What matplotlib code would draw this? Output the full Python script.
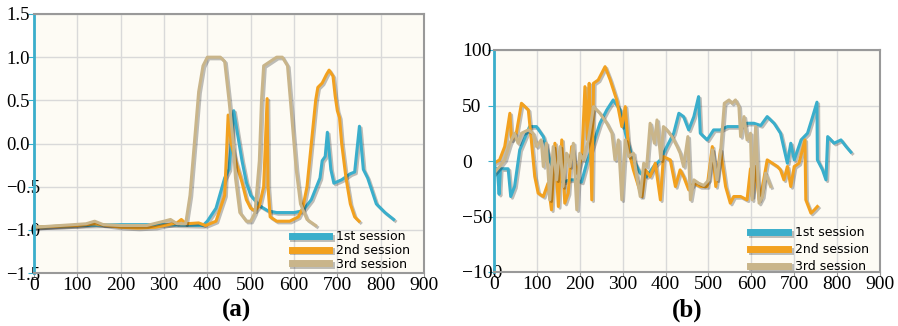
import matplotlib
matplotlib.use("Agg")
import matplotlib.pyplot as plt
import matplotlib.patheffects as pe

# panel (a) data
a1_x = [0, 50, 100, 200, 300, 390, 400, 420, 440, 450, 455, 461, 470, 480, 490, 500, 520, 540, 560, 600,
        620, 640, 660, 665, 672, 677, 685, 692, 710, 730, 740, 751, 760, 770, 790, 810, 830]
a1_y = [-0.97, -0.96, -0.95, -0.94, -0.94, -0.95, -0.9, -0.75, -0.4, -0.3, 0.0, 0.38, 0.1, -0.2, -0.45,
        -0.6, -0.72, -0.78, -0.8, -0.8, -0.78, -0.65, -0.4, -0.2, -0.15, 0.13, -0.3, -0.46, -0.42, -0.35,
        -0.33, 0.2, -0.3, -0.4, -0.7, -0.8, -0.88]
a2_x = [0, 100, 140, 200, 240, 280, 300, 330, 340, 350, 380, 396, 420, 440, 448, 455, 465, 480, 490,
        500, 510, 520, 530, 538, 540, 545, 560, 590, 610, 620, 630, 640, 650, 655, 665, 675, 681, 690,
        695, 700, 705, 710, 720, 730, 740, 750]
a2_y = [-0.97, -0.95, -0.93, -0.97, -0.98, -0.97, -0.95, -0.92, -0.88, -0.93, -0.92, -0.95, -0.9, -0.6,
        0.33, 0.0, -0.2, -0.45, -0.65, -0.75, -0.78, -0.72, -0.5, 0.52, -0.5, -0.85, -0.9, -0.9, -0.85,
        -0.75, -0.5, 0.0, 0.5, 0.65, 0.7, 0.8, 0.85, 0.78, 0.55, 0.38, 0.3, 0.0, -0.4, -0.7, -0.85, -0.9]
a3_x = [0, 60, 120, 140, 160, 200, 260, 300, 315, 330, 350, 360, 370, 380, 390, 400, 430, 440, 450,
        460, 465, 475, 490, 500, 510, 520, 525, 530, 545, 560, 573, 585, 595, 605, 615, 630, 650]
a3_y = [-0.97, -0.95, -0.93, -0.9, -0.94, -0.95, -0.95, -0.9, -0.88, -0.93, -0.93, -0.6, 0.0, 0.6, 0.9,
        1.0, 1.0, 0.95, 0.5, 0.0, -0.4, -0.8, -0.9, -0.9, -0.8, -0.2, 0.5, 0.9, 0.95, 1.0, 1.0, 0.9, 0.3,
        -0.3, -0.7, -0.88, -0.95]

# panel (b) data
b1_x = [0, 8, 12, 15, 33, 39, 48, 60, 83, 99, 115, 130, 146, 161, 177, 193, 204, 216, 232, 247, 263,
        278, 294, 310, 325, 341, 356, 372, 388, 403, 419, 431, 442, 454, 466, 477, 481, 497, 512, 528,
        544, 559, 575, 590, 606, 622, 637, 653, 668, 684, 692, 700, 716, 731, 743, 753, 754, 766, 774,
        778, 793, 809, 821, 832]
b1_y = [-5, -8, -30, -7, -7, -32, -23, 10, 31, 31, 22, 1, -14, -19, -17, -17, -19, -2, 16, 34, 46, 55,
        46, 19, 1, -11, -14, -5, 1, 13, 25, 43, 40, 28, 40, 58, 25, 19, 28, 28, 31, 31, 31, 34, 34, 32,
        40, 34, 25, -2, 16, 1, 19, 25, 40, 53, 1, -8, -17, 22, 16, 19, 13, 8]
b2_x = [0, 13, 25, 37, 41, 52, 64, 80, 87, 95, 103, 115, 126, 134, 142, 150, 158, 165, 173, 181, 193,
        205, 212, 218, 222, 228, 232, 243, 259, 271, 286, 298, 306, 314, 325, 337, 345, 353, 364, 376,
        388, 395, 411, 423, 434, 442, 454, 466, 481, 497, 509, 517, 528, 540, 551, 559, 575, 590, 598,
        602, 610, 618, 626, 637, 649, 661, 668, 676, 684, 692, 700, 711, 725, 727, 739, 747, 754]
b2_y = [-2, 1, 13, 43, 19, 25, 52, 46, 19, -14, -29, -32, -20, -44, 16, -41, 19, -38, -29, 13, -11, 4,
        67, 19, 70, -35, 70, 73, 85, 73, 55, 31, 49, 10, -8, -23, -32, -8, -14, -2, -35, 4, 1, -23, -8,
        -14, -26, -20, -23, -23, 13, -23, 10, -23, -38, -32, -32, -35, -7, -32, -5, -35, -23, 1, -2, -5,
        -8, -17, -5, -23, -5, -2, 19, -35, -47, -44, -41]
b3_x = [0, 13, 25, 37, 48, 56, 64, 80, 91, 99, 110, 115, 122, 130, 138, 146, 154, 161, 169, 177, 185,
        193, 200, 208, 220, 232, 247, 263, 275, 282, 290, 298, 306, 314, 325, 333, 341, 349, 356, 364,
        374, 380, 389, 395, 403, 415, 427, 434, 442, 452, 458, 466, 477, 489, 501, 509, 520, 528, 537,
        548, 555, 563, 571, 575, 583, 590, 598, 602, 610, 618, 626, 633, 645]
b3_y = [-11, -5, 1, 16, 25, 16, 25, 28, 25, 13, 19, -5, 16, -35, 13, -17, 13, -23, 7, -5, 16, -44, 7, 1,
        19, 49, 43, 34, 25, 1, 19, -35, 19, 4, 7, -14, -32, -2, -5, 34, 16, 37, 1, 31, 28, 22, 13, 7, -5,
        22, -35, -17, -20, -22, -17, 10, -17, 7, 52, 55, 52, 55, 49, 22, 40, 19, 25, -35, 31, -38, -32,
        -11, -23]

labels = ["1st session", "2nd session", "3rd session"]
colors = ["#3aaecb", "#f2a11f", "#c9b58a"]

plt.rcParams["font.family"] = "Liberation Serif"

fig = plt.figure(figsize=(8.98, 3.26), dpi=100)
ax_a = fig.add_axes([34 / 898, 53 / 326, 390 / 898, 259 / 326])
ax_b = fig.add_axes([494 / 898, 54 / 326, 386 / 898, 222 / 326])

shadow = [pe.SimpleLineShadow(offset=(1.2, -1.2), alpha=0.25), pe.Normal()]


def style(ax, ylim, yticks, ysize, ypad, leg_anchor, leg_space):
    ax.set_facecolor("#fdfbf4")
    ax.set_xlim(0, 900)
    ax.set_ylim(*ylim)
    ax.set_xticks(range(0, 901, 100))
    ax.set_yticks(yticks)
    ax.grid(color="#d9d9d9", linewidth=1.0)
    ax.set_axisbelow(True)
    for s in ["top", "right", "bottom"]:
        ax.spines[s].set_color("#999999")
        ax.spines[s].set_linewidth(1.5)
    ax.spines["left"].set_color("#3aaecb")
    ax.spines["left"].set_linewidth(2)
    ax.tick_params(axis="x", labelsize=14, length=3, pad=0, color="#999999")
    ax.tick_params(axis="y", labelsize=ysize, length=4, pad=ypad, color="#3aaecb")
    for t in ax.get_yticklabels():
        t.set_horizontalalignment("left")
    leg = ax.legend(loc="lower right", bbox_to_anchor=leg_anchor, frameon=False, handlelength=3.0,
                    handletextpad=0.55, labelspacing=leg_space, borderaxespad=0,
                    prop={"family": "DejaVu Sans", "size": 9})
    for h in leg.get_lines():
        h.set_linewidth(5)


for xs, ys, c, lab in zip([a1_x, a2_x, a3_x], [a1_y, a2_y, a3_y], colors, labels):
    ax_a.plot(xs, ys, color=c, linewidth=2.2, label=lab, path_effects=shadow)
style(ax_a, (-1.5, 1.5), [-1.5, -1.0, -0.5, 0.0, 0.5, 1.0, 1.5], 13.5, 16,
      (0.977, -0.01), 0.05)

for xs, ys, c, lab in zip([b1_x, b2_x, b3_x], [b1_y, b2_y, b3_y], colors, labels):
    ax_b.plot(xs, ys, color=c, linewidth=2.2, label=lab, path_effects=shadow)
style(ax_b, (-100, 100), [-100, -50, 0, 50, 100], 14, 19,
      (0.984, -0.027), 0.3)

fig.text(237 / 898, 1 - 310 / 326, "(a)", ha="center", va="center", fontsize=18, fontweight="bold")
fig.text(687 / 898, 1 - 310 / 326, "(b)", ha="center", va="center", fontsize=18, fontweight="bold")

fig.savefig("out.png", dpi=100)
